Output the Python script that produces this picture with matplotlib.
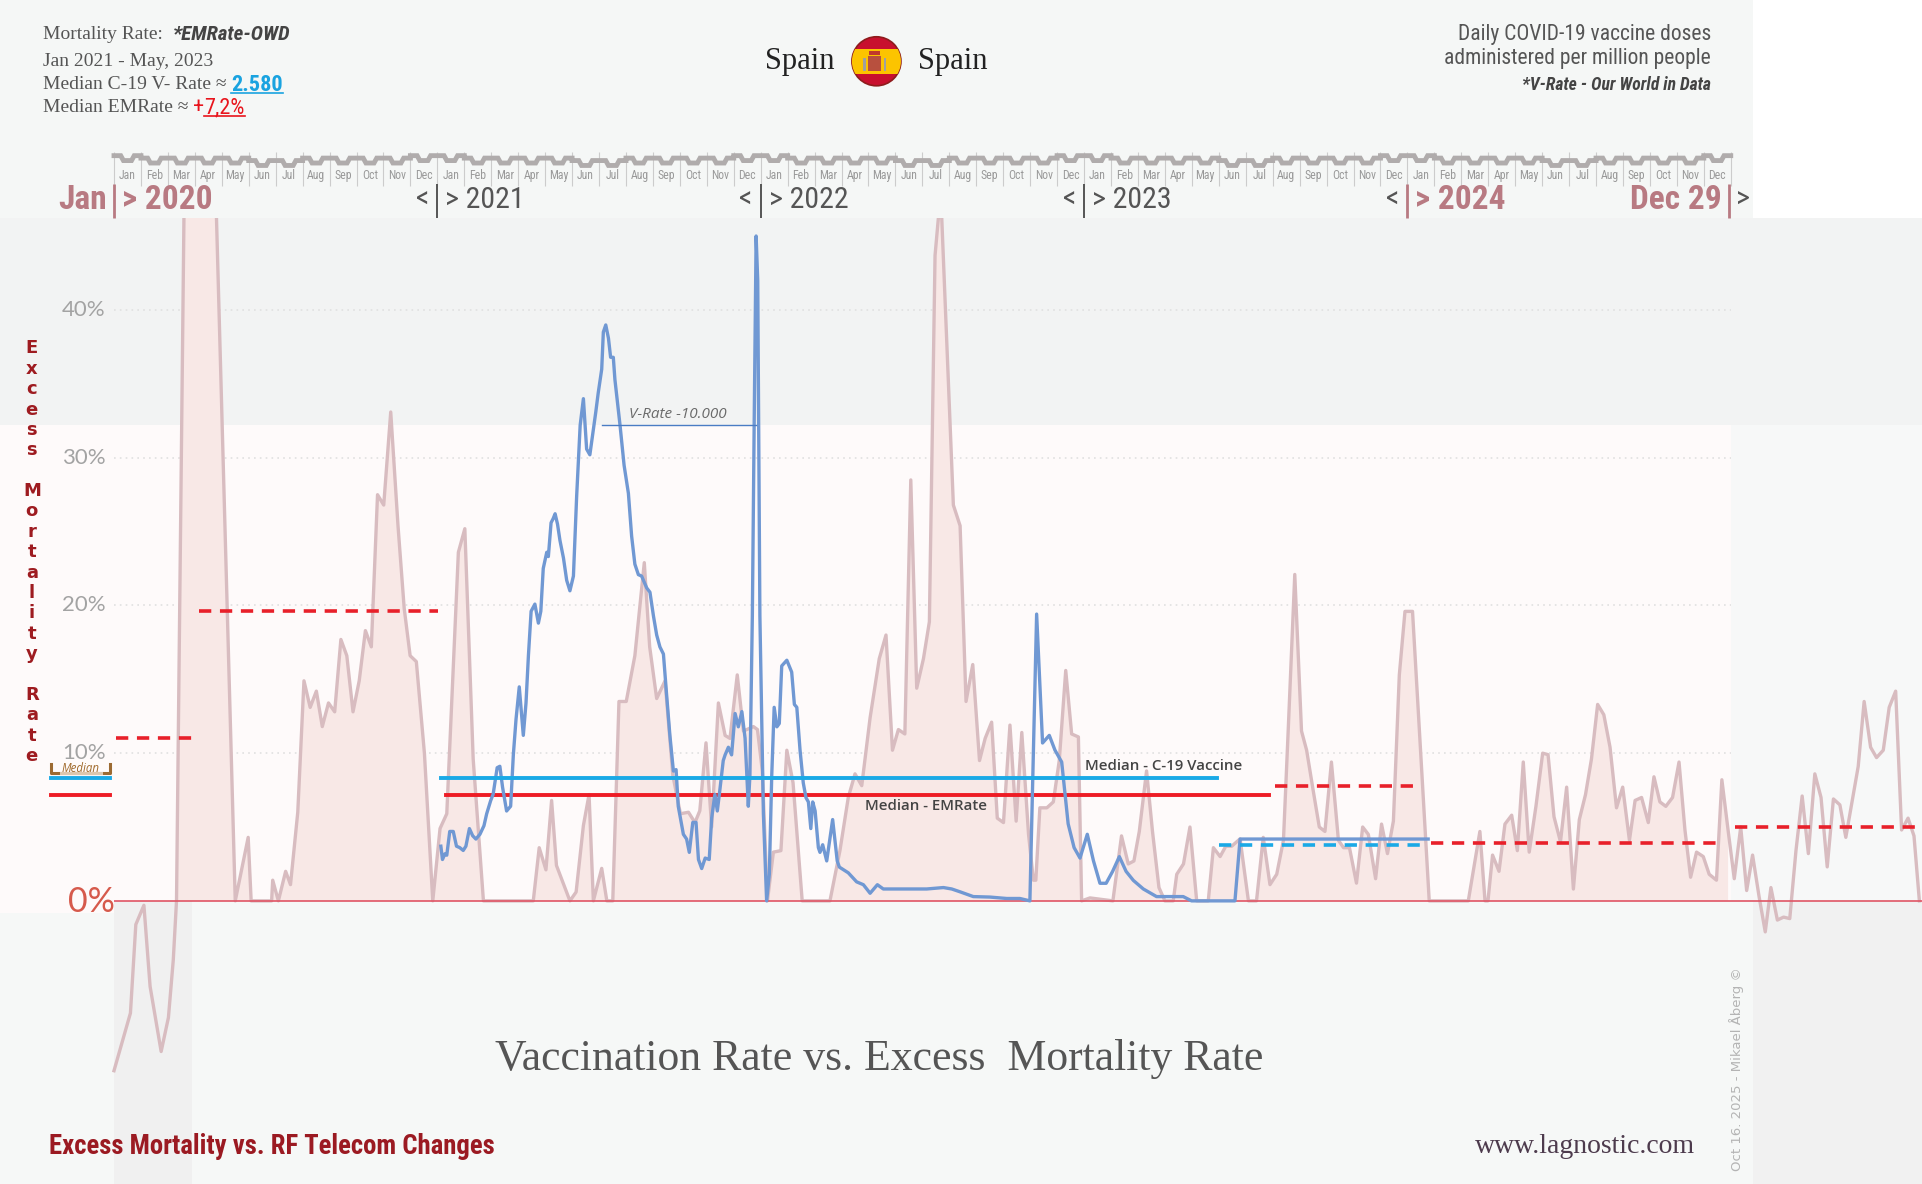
import numpy as np
import matplotlib
matplotlib.use("Agg")
import matplotlib.pyplot as plt
from matplotlib.patches import Rectangle, Ellipse

# ---------------- Data ----------------
# Weekly excess mortality, Spain (% vs. baseline); x = months since Jan 1 2020
em_month = [
    0.00, 0.61, 0.81, 1.11, 1.34, 1.75, 2.02, 2.20, 2.32, 2.68, 3.05, 3.37, 4.50,
    4.98, 5.09, 5.85, 5.89, 6.10, 6.37, 6.55, 6.82, 7.05, 7.28, 7.51, 7.73, 7.96,
    8.19, 8.42, 8.64, 8.87, 9.10, 9.33, 9.55, 9.78, 10.01, 10.27, 10.54, 10.77,
    10.99, 11.22, 11.52, 11.83,
    12.10, 12.35, 12.78, 13.02, 13.33, 13.71, 15.56, 15.78, 16.03, 16.24, 16.42,
    16.92, 17.15, 17.42, 17.63, 17.79, 18.10, 18.29, 18.51, 18.74, 19.01, 19.33,
    19.68, 19.88, 20.14, 20.45, 20.74, 21.02, 21.32, 21.56, 21.74, 21.97, 22.18,
    22.43, 22.68, 22.86, 23.13, 23.36, 23.73, 23.88, 24.06, 24.25, 24.47, 24.75,
    24.97, 25.20, 25.54,
    26.57, 26.94, 27.25, 27.50, 27.75, 28.06, 28.40, 28.65, 28.89, 29.11, 29.35,
    29.57, 29.79, 30.04, 30.26, 30.47, 30.68, 30.91, 31.15, 31.40, 31.62, 31.87,
    32.12, 32.33, 32.57, 32.78, 33.01, 33.25, 33.48, 33.69, 33.94, 34.12, 34.21,
    34.36, 34.62, 34.86, 35.08, 35.32, 35.54, 35.79, 35.91, 36.22, 37.07, 37.39,
    37.64, 37.85, 38.05, 38.32, 38.54, 38.78, 39.00, 39.31, 39.44, 39.69, 39.93,
    40.18, 40.61, 40.80, 41.05, 41.26, 41.48, 41.79, 42.10, 42.40, 42.65, 42.90,
    43.15, 43.40, 43.58, 43.82, 44.07, 44.26, 44.51, 44.73, 44.94, 45.18, 45.44,
    45.63, 45.85, 46.11, 46.34, 46.55, 46.82, 47.04, 47.26, 47.48, 47.70, 47.91,
    48.19, 48.81,
    50.26, 50.69, 50.88, 50.99, 51.16, 51.40, 51.62, 51.87, 52.08, 52.30, 52.52,
    52.77, 53.02, 53.22, 53.44, 53.68, 53.91, 54.16, 54.38, 54.61, 54.83, 55.06,
    55.29, 55.52, 55.76, 55.99, 56.24, 56.45, 56.69, 56.94, 57.15, 57.37, 57.59,
    57.84, 58.08, 58.30, 58.51, 58.73, 58.98, 59.20, 59.47, 59.67, 59.90,
    60.13, 60.37, 60.59, 60.81, 61.05, 61.28, 61.49, 61.73, 61.96, 62.19, 62.42,
    62.65, 62.88, 63.12, 63.35, 63.58, 63.81, 64.05, 64.27, 64.51, 64.73, 64.95,
    65.19, 65.41, 65.66, 65.88, 66.12, 66.34, 66.58, 66.80, 67.00,
]
em_pct = [
    -11.5, -7.6, -1.6, -0.3, -5.8, -10.2, -7.9, -4.0, 0, 60, 155, 75, 0,
    4.3, 0, 0, 1.4, 0, 2.0, 1.1, 6.0, 14.9, 13.1, 14.2, 11.8, 13.4,
    12.8, 17.7, 16.6, 12.8, 14.9, 18.3, 17.2, 27.5, 26.8, 33.1, 25.4, 19.8,
    16.6, 16.2, 10.0, 0,
    4.9, 5.9, 23.6, 25.2, 9.6, 0, 0, 3.6, 2.1, 6.8, 2.4,
    0, 0.6, 5.1, 7.2, 0, 2.2, 0, 0, 13.5, 13.5, 16.6,
    22.9, 17.2, 13.7, 14.9, 8.5, 5.9, 6.0, 5.3, 6.1, 10.7, 5.0,
    13.4, 11.2, 11.0, 15.3, 11.5, 11.8, 11.6, 8.8, 0, 3.3, 3.4,
    10.2, 8.0, 0,
    0, 3.4, 7.0, 8.6, 7.8, 12.4, 16.4, 18.0, 10.2, 11.6, 11.3,
    28.5, 14.4, 16.4, 18.9, 43.7, 48.0, 37.7, 26.8, 25.4, 13.5, 16.0,
    9.5, 11.0, 12.1, 5.6, 5.3, 11.9, 5.4, 11.4, 4.5, 1.4, 1.4,
    6.3, 6.3, 6.7, 9.5, 15.6, 11.3, 11.1, 0, 0.2, 0, 4.4,
    2.5, 2.7, 4.7, 8.8, 4.7, 0.9, 0, 0, 1.8, 2.5, 5.0,
    0, 0, 3.6, 3.0, 3.7, 3.7, 4.2, 0, 0, 4.3, 1.1,
    1.8, 4.1, 11.7, 22.1, 11.5, 10.2, 7.4, 5.0, 4.7, 9.4, 4.1,
    3.6, 3.6, 1.2, 5.0, 4.5, 1.5, 5.2, 3.2, 5.4, 15.3, 19.6,
    19.6, 0,
    0, 4.7, 0, 0, 3.1, 2.0, 5.2, 5.8, 3.4, 9.4, 3.3,
    6.4, 10.0, 9.9, 5.7, 4.0, 7.7, 0.8, 5.5, 7.2, 9.6, 13.3,
    12.6, 10.4, 6.3, 7.7, 4.1, 6.8, 7.0, 5.3, 8.4, 6.7, 6.4,
    7.0, 9.4, 4.8, 1.6, 3.3, 3.0, 1.8, 1.4, 8.2, 4.8,
    1.5, 5.0, 0.7, 3.1, 0.3, -2.1, 0.9, -1.3, -1.1, -1.2, 3.4,
    7.1, 3.2, 8.6, 7.0, 2.3, 6.9, 6.5, 4.3, 6.8, 9.1, 13.5,
    10.4, 9.7, 10.2, 13.1, 14.2, 4.8, 5.6, 4.4, 0,
]

# Daily COVID-19 vaccine doses per million people (OWD)
vr_month = [
    12.13, 12.19, 12.28, 12.35, 12.46, 12.59, 12.71, 12.83, 12.96, 13.06, 13.19,
    13.31, 13.43, 13.58, 13.73, 13.83, 13.98, 14.07, 14.22, 14.32, 14.42, 14.57,
    14.72, 14.82, 14.92, 15.04, 15.19, 15.29, 15.38, 15.48, 15.62, 15.75, 15.84,
    15.93, 16.06, 16.12, 16.22, 16.30, 16.37, 16.46, 16.55, 16.68, 16.80, 16.92,
    17.05, 17.17, 17.30, 17.42, 17.54, 17.66, 17.79, 17.88, 17.97, 18.10, 18.16,
    18.25, 18.35, 18.43, 18.53, 18.59, 18.78, 18.93, 19.09, 19.21, 19.33, 19.46,
    19.58, 19.77, 19.89, 20.02, 20.14, 20.26, 20.39, 20.51, 20.63, 20.76, 20.86,
    20.94, 21.13, 21.25, 21.35, 21.48, 21.60, 21.69, 21.81, 21.94, 22.09, 22.18,
    22.30, 22.39, 22.49, 22.61, 22.68, 22.80, 22.92, 23.05, 23.17, 23.30, 23.42,
    23.54, 23.60, 23.69, 23.76, 23.83, 23.89, 23.97, 24.10, 24.22, 24.32, 24.41,
    24.50, 24.60, 24.69, 24.78, 24.97, 25.15, 25.25, 25.34, 25.46, 25.58, 25.68,
    25.77, 25.86, 25.93, 26.02, 26.14, 26.20, 26.30, 26.45, 26.67, 26.84, 26.92,
    27.25, 27.56, 27.81, 28.06, 28.33, 28.55, 29.17, 29.66, 30.16, 30.78, 31.09,
    31.40, 31.89, 32.51, 33.13, 33.62, 33.99, 34.24, 34.46, 34.71, 34.92, 35.17,
    35.41, 35.63, 35.85, 36.12, 36.35, 36.59, 36.82, 37.06, 37.31, 37.56, 37.83,
    38.20, 38.69, 39.68, 39.99, 41.60, 41.79, 48.77,
]
vr_doses = [
    1150, 870, 990, 960, 1460, 1460, 1150, 1120, 1060, 1150, 1520,
    1370, 1300, 1400, 1580, 1830, 2110, 2240, 2800, 2830, 2390, 1890,
    1990, 3070, 3820, 4500, 3480, 4160, 5160, 6090, 6240, 5840, 6090,
    6990, 7330, 7240, 7950, 8040, 8140, 7920, 7580, 7210, 6740, 6520,
    6830, 8510, 10000, 10560, 9500, 9380, 9910, 10280, 10680, 11180, 11960,
    12110, 11830, 11430, 11430, 10960, 10000, 9160, 8570, 7670, 7080, 6860,
    6830, 6580, 6490, 5990, 5590, 5340, 5190, 4320, 3480, 2730, 2760,
    1990, 1400, 1300, 1020, 1650, 1650, 870, 680, 900, 870, 1740,
    2240, 1890, 2360, 2950, 3070, 3230, 3070, 3940, 3660, 3980, 3420,
    1990, 2640, 5990, 10160, 13980, 13040, 5990, 1830, 0, 560, 2640,
    4070, 3660, 3730, 4940, 5060, 4810, 4130, 4070, 3170, 2480, 2170,
    2080, 1520, 2080, 1890, 1120, 1020, 1180, 840, 1710, 840, 710,
    590, 400, 340, 160, 340, 250, 250, 250, 250, 280, 250,
    190, 90, 80, 50, 50, 0, 6030, 3320, 3480, 3170, 2920,
    1620, 1120, 900, 1400, 840, 370, 370, 620, 930, 620, 430,
    250, 90, 90, 0, 0, 1300, 1300,
]

# medians
em_median = 7.2            # Jan 2021 - May 2023
em_median_span = (12.33, 42.85)
vr_median = 2580
vr_median_span = (12.15, 40.94)
vr_median_late = 1180
vr_median_late_span = (40.99, 48.77)
# period medians of excess mortality (dashed)
em_seg_start = [0.09, 3.14, 43.08, 48.86, 60.14]
em_seg_end = [2.91, 12.01, 48.40, 59.69, 67.10]
em_seg_val = [11.0, 19.6, 7.8, 3.9, 5.0]

vr_ref = 10000             # V-Rate reference line
vr_ref_span = (18.10, 23.83)
y_ticks = [10, 20, 30, 40]
years = [2020, 2021, 2022, 2023, 2024]
months = ["Jan", "Feb", "Mar", "Apr", "May", "Jun",
          "Jul", "Aug", "Sep", "Oct", "Nov", "Dec"]
season_level = [2.5, 2, 2, 2, 2, 1.5, 1.5, 2, 2, 2, 2, 2.5]

# ---------------- Layout helpers ----------------
W, H = 1568, 966            # reference layout grid
X0, PXM = 93, 21.983        # Jan 2020 position, px per month
Y0, PXP = 735, 12.05        # 0 % position, px per percent
VR_PER_PCT = 10000 / 32.2   # doses/million per percent on the shared scale


def at(x, y):
    return (x - X0) / PXM, (Y0 - y) / PXP


def ay(y):
    return (Y0 - y) / PXP


SERIF = ["Liberation Serif", "DejaVu Serif"]
NARROW = ["Roboto Condensed", "Liberation Sans Narrow", "Roboto", "DejaVu Sans"]
SANS = ["Open Sans", "DejaVu Sans"]
LATO = ["Lato", "DejaVu Sans"]

fig = plt.figure(figsize=(19.22, 11.84), dpi=100, facecolor="#f6f8f7")
ax = fig.add_axes([0, 0, 1, 1])
ax.set_xlim(at(0, 0)[0], at(W, 0)[0])
ax.set_ylim(ay(H), ay(0))
ax.axis("off")


def rect(x0, y0, x1, y1, color, z=0):
    ax.add_patch(Rectangle(at(x0, y1), (x1 - x0) / PXM, (y1 - y0) / PXP,
                           facecolor=color, lw=0, zorder=z))


# ---------------- Backgrounds ----------------
rect(0, 178, W, 347, "#f2f3f3")
rect(0, 347, 1412, 735, "#fefafa")
rect(0, 735, 93, 745, "#fefafa")
rect(1412, 347, W, 735, "#f7f8f8")
rect(93, 735, 157, H, "#f0f0f0")
rect(1430, 735, W, H, "#f1f1f1")
rect(0, 0, 1430, 178, "#f5f7f6", z=6)
rect(1430, 0, W, 178, "#ffffff", z=6)

# grid
ax.hlines(y_ticks, 0, 60, colors="#e0e0e0", linestyles=(0, (1, 2.5)), lw=1.2, zorder=1)
for v in y_ticks:
    ax.text(at(86, 0)[0], v, f"{v}%", ha="right", va="center", fontsize=16,
            color="#a3a3a3", family=LATO, zorder=7)
ax.text(*at(94, 736), "0%", ha="right", va="center", fontsize=24.5,
        color="#d65a4c", family=LATO, zorder=7)

# ---------------- Excess mortality ----------------
em_x = np.array(em_month)
em_y = np.array(em_pct)
mask = em_x <= 60
ax.fill_between(em_x[mask], 0, np.clip(em_y[mask], 0, None),
                color="#f8e8e6", lw=0, zorder=2)
ax.plot(em_x, em_y, color="#d8bcc0", lw=2.4, zorder=3)

for s, e, v in zip(em_seg_start, em_seg_end, em_seg_val):
    ax.plot([s, e], [v, v], color="#e8202a", lw=2.6,
            linestyle=(0, (3.4, 2.4)), zorder=4)
ax.plot(em_median_span, [em_median] * 2, color="#ee1c25", lw=2.8, zorder=4)
ax.hlines(0, 0, at(W, 0)[0], colors="#e05565", lw=1.2, zorder=5)

# ---------------- Vaccination rate (twin scale) ----------------
ax2 = ax.twinx()
ax2.set_ylim(ay(H) * VR_PER_PCT, ay(0) * VR_PER_PCT)
ax2.axis("off")
ax2.plot(vr_month, vr_doses, color="#7098d3", lw=2.4, zorder=3)
ax2.plot(vr_median_span, [vr_median] * 2, color="#1aa9e6", lw=2.8, zorder=4)
ax2.plot(vr_median_late_span, [vr_median_late] * 2, color="#1aa9e6", lw=2.6,
         linestyle=(0, (3.4, 2.4)), zorder=4)
ax2.plot(vr_ref_span, [vr_ref] * 2, color="#4a7cc4", lw=1.0, zorder=4)
ax.text(*at(513, 338), "V-Rate -10.000", ha="left", va="center", fontsize=11,
        style="italic", color="#6a6a6a", family=SANS, zorder=7)

ax.text(*at(885, 625), "Median - C-19 Vaccine", ha="left", va="center",
        fontsize=10.8, weight="semibold", color="#444444", family=SANS, zorder=7)
ax.text(*at(706, 658), "Median - EMRate", ha="left", va="center",
        fontsize=10.8, weight="semibold", color="#444444", family=SANS, zorder=7)

# left legend marks
lx0, lx1 = at(42, 0)[0], at(90, 0)[0]
ax2.plot([lx0, lx1], [vr_median] * 2, color="#1aa9e6", lw=2.8, zorder=4)
ax.plot([lx0, lx1], [em_median] * 2, color="#ee1c25", lw=2.8, zorder=4)
ax.plot([lx0, lx0, lx1, lx1], [ay(623), ay(631), ay(631), ay(623)],
        color="#9c6a32", lw=2.2, zorder=4)
ax.plot([at(50, 0)[0], at(82, 0)[0]], [ay(631)] * 2, color="#dcc6ae", lw=2.2, zorder=4)
ax.text(*at(66, 627), "Median", ha="center", va="center", fontsize=8.3,
        style="italic", color="#a06a2c", family=SANS, zorder=7)

# vertical axis title, stacked letters
ax.text(*at(26, 285 + 10 * 16.55), "\n".join("Excess Mortality Rate"),
        ha="center", va="center", multialignment="center", linespacing=1.17,
        fontsize=13, weight="bold", color="#9e1b20", family="DejaVu Sans", zorder=7)

# ---------------- Header ----------------
hdr = dict(va="center", zorder=8)
t = ax.text(*at(35, 28), "Mortality Rate:  ", fontsize=14, color="#555555",
            family=SERIF, **hdr)
ax.annotate("*EMRate-OWD", xy=(1, 0.5), xycoords=t, fontsize=15,
            weight="bold", style="italic", color="#444444", family=NARROW, **hdr)
ax.text(*at(35, 50), "Jan 2021 - May, 2023", fontsize=14, color="#555555",
        family=SERIF, **hdr)
t = ax.text(*at(35, 69), "Median C-19 V- Rate \u2248 ", fontsize=14,
            color="#555555", family=SERIF, **hdr)
vr_txt = ax.annotate(f"{vr_median/1000:.3f}", xy=(1, 0.5), xycoords=t,
                     fontsize=16, weight="bold", color="#1aa3e0",
                     family=NARROW, **hdr)
t = ax.text(*at(35, 88), "Median EMRate \u2248 ", fontsize=14, color="#555555",
            family=SERIF, **hdr)
t = ax.annotate("+", xy=(1, 0.5), xycoords=t, fontsize=16, color="#e8141c",
                family=NARROW, **hdr)
em_txt = ax.annotate(f"{em_median:.1f}%".replace(".", ","), xy=(1, 0.5),
                     xycoords=t, fontsize=16, color="#e8141c",
                     family=NARROW, **hdr)

ax.text(*at(681, 50), "Spain", ha="right", fontsize=22, color="#222222",
        family=SERIF, **hdr)
ax.text(*at(749, 50), "Spain", ha="left", fontsize=22, color="#222222",
        family=SERIF, **hdr)

# flag
fc = at(715, 50)
fw, fh = 40 / PXM, 40 / PXP
flag = Ellipse(fc, fw, fh, facecolor="#c8102e", edgecolor="#8e1c1c", lw=1.2, zorder=8)
ax.add_patch(flag)
band = Rectangle(at(694, 60), 42 / PXM, 20 / PXP, facecolor="#fcc400", lw=0, zorder=8)
ax.add_patch(band)
band.set_clip_path(flag)
ax.add_patch(Rectangle(at(708, 58), 11 / PXM, 12 / PXP, facecolor="#b8503e", lw=0, zorder=9))
ax.add_patch(Rectangle(at(709, 45), 9 / PXM, 3 / PXP, facecolor="#c0392b", lw=0, zorder=9))
for px in (704, 721):
    ax.add_patch(Rectangle(at(px, 58), 2.2 / PXM, 11 / PXP, facecolor="#a0a0a0", lw=0, zorder=9))

rt = dict(ha="right", va="center", color="#555555", family=NARROW, zorder=8)
ax.text(*at(1396, 28), "Daily COVID-19 vaccine doses", fontsize=15.5, **rt)
ax.text(*at(1396, 48), "administered per million people", fontsize=15.5, **rt)
rt["color"] = "#444444"
ax.text(*at(1396, 69), "*V-Rate - Our World in Data", fontsize=12.7,
        weight="bold", style="italic", **rt)

# ---------------- Timeline strip ----------------
tl_x, tl_y = [], []
for k in range(60):
    lv = season_level[k % 12]
    tl_x += [k, k + 0.25, k + 0.35, k + 0.65, k + 0.75, k + 1]
    tl_y += [lv, lv, lv - 1, lv - 1, lv, lv]
ax.plot(tl_x, [ay(137 - 4 * v) for v in tl_y], color="#b0acac", lw=3.5,
        solid_joinstyle="miter", zorder=9)
ax.vlines(range(61), ay(152), ay(124), colors="#cccccc", lw=0.8, zorder=8)
for k in range(60):
    ax.text(k + 0.5, ay(143), months[k % 12], ha="center", va="center",
            fontsize=8.5, color="#999999", family=NARROW, zorder=9)

PINK = "#b87a82"
big = dict(va="center", family=NARROW, zorder=9)
for i, yr in enumerate(years):
    xm = 12 * i
    pink = i in (0, 4)
    col = PINK if pink else "#555555"
    ax.vlines(xm, ay(178), ay(150), colors=col, lw=2.0 if pink else 1.4, zorder=9)
    if i == 0:
        ax.text(xm - 0.25, ay(163), "Jan", ha="right", color=PINK, weight="bold",
                fontsize=24, **big)
    else:
        ax.text(xm - 0.3, ay(163), "<", ha="right", color="#555555", fontsize=21.5, **big)
    ax.text(xm + 0.3, ay(163), f"> {yr}", ha="left", color=col,
            weight="bold" if pink else "normal", fontsize=24 if pink else 21.5, **big)
x_end = 59.93
ax.vlines(x_end, ay(178), ay(150), colors=PINK, lw=2.0, zorder=9)
ax.text(x_end - 0.25, ay(163), "Dec 29", ha="right", color=PINK, weight="bold",
        fontsize=24, **big)
ax.text(x_end + 0.25, ay(163), ">", ha="left", color="#555555", fontsize=21.5, **big)

# ---------------- Footer ----------------
ax.text(*at(717, 864), "Vaccination Rate vs. Excess  Mortality Rate", ha="center",
        va="center", fontsize=31.5, color="#555555", family=SERIF)
ax.text(*at(40, 935), "Excess Mortality vs. RF Telecom Changes", ha="left",
        va="center", fontsize=19.3, weight="bold", color="#9b1a22", family=NARROW)
ax.text(*at(1383, 935), "www.lagnostic.com", ha="right", va="center",
        fontsize=20, color="#4d3b4d", family=SERIF)
ax.text(*at(1417, 955), "Oct 16. 2025 - Mikael \u00c5berg \u00a9", ha="center",
        va="bottom", rotation=90, fontsize=9.5, color="#b4b4b4", family="DejaVu Sans")

# underline the highlighted numbers
fig.canvas.draw()
inv = ax.transData.inverted()
for txt, col in ((vr_txt, "#1aa3e0"), (em_txt, "#e8141c")):
    bb = txt.get_window_extent()
    (x0, y0), (x1, y1) = inv.transform([[bb.x0, bb.y0], [bb.x1, bb.y1]])
    yl = y0 + (y1 - y0) * 0.12
    ax.plot([x0, x1], [yl, yl], color=col, lw=1.2, zorder=9)

fig.savefig("out.png", dpi=100, facecolor=fig.get_facecolor())
